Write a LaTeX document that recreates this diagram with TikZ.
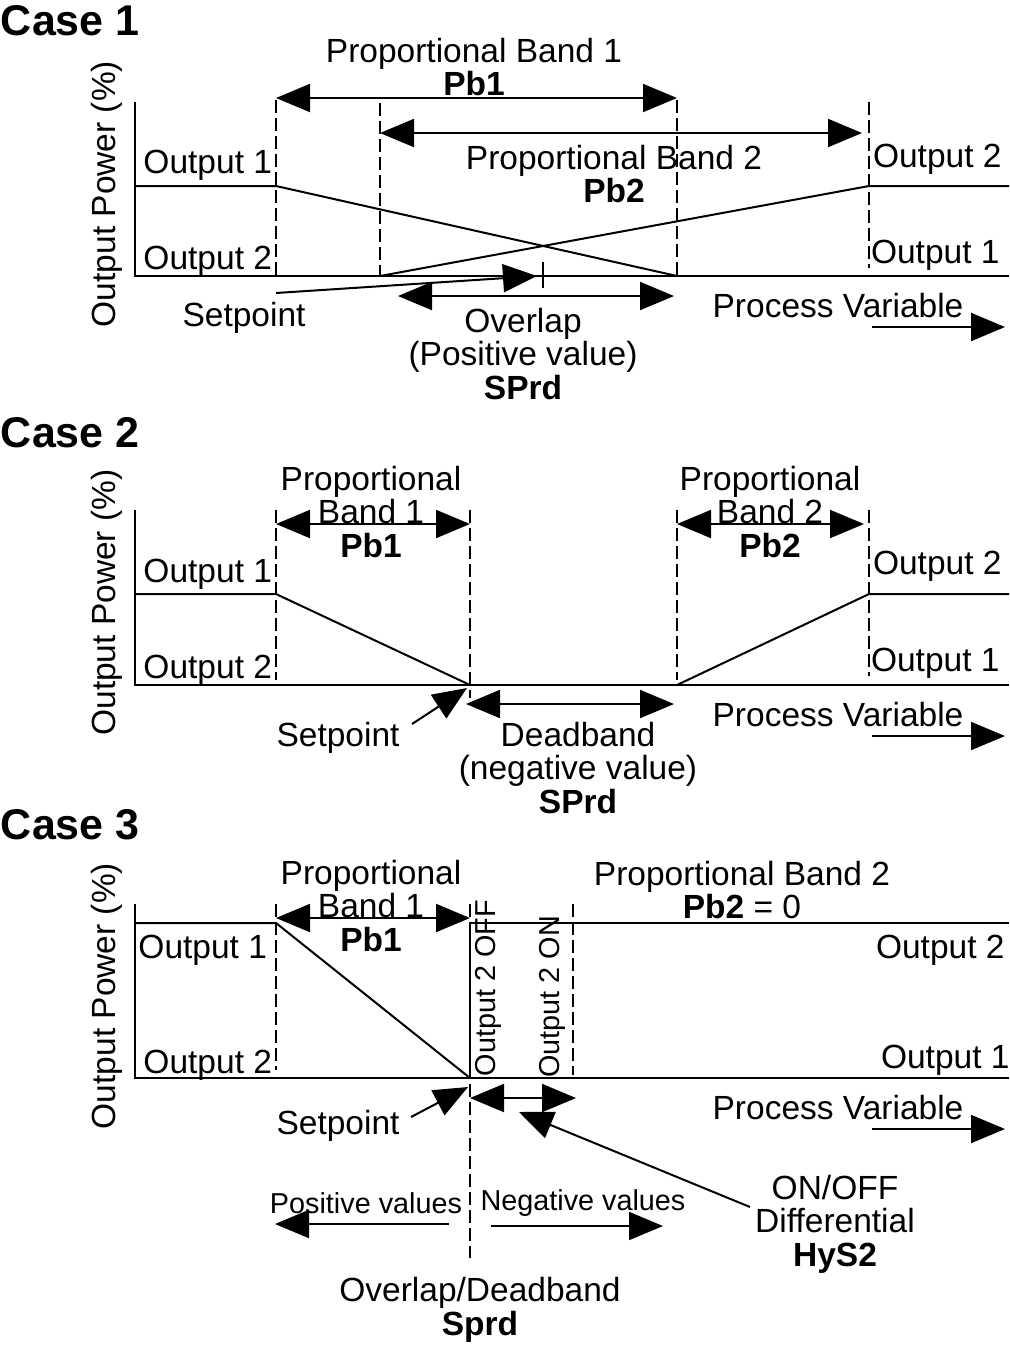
\documentclass[tikz,border=0pt]{standalone}
\usepackage{fontspec}
\setmainfont{Liberation Sans}
\usetikzlibrary{arrows.meta}
\begin{document}
\begin{tikzpicture}[x=0.5pt, y=-0.5pt,
    >={Triangle[length=17pt,width=14pt]},   %Pfeilspitzen
    line width=1pt,
    font=\fontsize{16.75}{16.75}\selectfont,
    lbl/.style={inner sep=0pt, align=center},
    klein/.style={inner sep=0pt, font=\fontsize{14.4}{14.4}\selectfont},
    grenze/.style={dash pattern=on 6.5pt off 2.5pt},
    titel/.style={inner sep=0pt, anchor=west, font=\fontsize{21.5}{21.5}\selectfont\bfseries}]
  \useasboundingbox (0,0) rectangle (1009,1346);
  % Achsen, Titel, Prozessgroesse
  \foreach \n/\ya/\yb/\ty in {1/102/276/21, 2/510/685/433, 3/904/1078/825}{
    \node[titel] (case\n) at (0,\ty) {Case \n};
    \coordinate (top\n) at (135,\ya);
    \coordinate (org\n) at (135,\yb);
    \coordinate (end\n) at (1009,\yb);
    \draw (top\n) -- (org\n) -- (end\n);
    \node[lbl, rotate=90] (ylab\n) at (107,{(\ya+\yb)/2+5}) {Output Power (\%)};
    \node[lbl] (pv\n) at (838,\yb+30) {Process Variable};
    \coordinate (pva\n) at (872,\yb+51);
    \coordinate (pvb\n) at (1005,\yb+51);
    \draw[->] (pva\n) -- (pvb\n);
  }
  %%% Case 1
  % Grenzen
  \draw[grenze] (276,100) -- (276,276);
  \draw[grenze] (380,103) -- (380,276);
  \draw[grenze] (677,100) -- (677,276);
  \draw[grenze] (869,102) -- (869,268);
  % Ausgaenge
  \draw (135,186) -- (276,186) -- (677,276);
  \draw (380,276) -- (869,186) -- (1009,186);
  \draw (543,262) -- (543,288);
  % Baender und Pfeile
  \coordinate (pbA1a) at (276,98);  \coordinate (pbA1b) at (677,98);
  \coordinate (pbB1a) at (380,133); \coordinate (pbB1b) at (862,133);
  \coordinate (ov1a) at (398,296);  \coordinate (ov1b) at (674,296);
  \coordinate (sp1a) at (276,293);  \coordinate (sp1b) at (537,276);
  \draw[<->] (pbA1a) -- (pbA1b);
  \draw[<->] (pbB1a) -- (pbB1b);
  \draw[<->] (ov1a) -- (ov1b);
  \draw[->] (sp1a) -- (sp1b);
  % Beschriftung
  \node[lbl] (pbA1) at (474,67) {Proportional Band 1\\\textbf{Pb1}};
  \node[lbl] (pbB1) at (614,174) {Proportional Band 2\\\textbf{Pb2}};
  \node[lbl] (ov1) at (523,354) {Overlap\\(Positive value)\\\textbf{SPrd}};
  \node[lbl] (sp1) at (244,318) {Setpoint};
  \node[lbl, anchor=east] (lo1a) at (273,165) {Output 1};
  \node[lbl, anchor=east] (lo1b) at (273,261) {Output 2};
  \node[lbl, anchor=west] (ro1a) at (872,159) {Output 2};
  \node[lbl, anchor=west] (ro1b) at (870,255) {Output 1};
  %%% Case 2
  \draw[grenze] (276,510) -- (276,680);
  \draw[grenze] (470,510) -- (470,698);
  \draw[grenze] (677,510) -- (677,680);
  \draw[grenze] (869,510) -- (869,676);
  \draw (135,594) -- (276,594) -- (470,685);
  \draw (677,685) -- (869,594) -- (1009,594);
  \coordinate (pbA2a) at (276,524); \coordinate (pbA2b) at (470,524);
  \coordinate (pbB2a) at (677,524); \coordinate (pbB2b) at (864,524);
  \coordinate (db2a) at (466,704);  \coordinate (db2b) at (674,704);
  \coordinate (sp2a) at (412,724);  \coordinate (sp2b) at (467,688);
  \draw[<->] (pbA2a) -- (pbA2b);
  \draw[<->] (pbB2a) -- (pbB2b);
  \draw[<->] (db2a) -- (db2b);
  \draw[->] (sp2a) -- (sp2b);
  \node[lbl] (pbA2) at (371,512) {Proportional\\Band 1\\\textbf{Pb1}};
  \node[lbl] (pbB2) at (770,512) {Proportional\\Band 2\\\textbf{Pb2}};
  \node[lbl] (db2) at (578,768) {Deadband\\(negative value)\\\textbf{SPrd}};
  \node[lbl] (sp2) at (338,738) {Setpoint};
  \node[lbl, anchor=east] (lo2a) at (273,574) {Output 1};
  \node[lbl, anchor=east] (lo2b) at (273,670) {Output 2};
  \node[lbl, anchor=west] (ro2a) at (872,566) {Output 2};
  \node[lbl, anchor=west] (ro2b) at (870,663) {Output 1};
  %%% Case 3
  \draw[grenze] (276,904) -- (276,1070);
  \draw[grenze] (470,904) -- (470,1258);
  \draw[grenze] (573,904) -- (573,1075);
  \draw (135,923) -- (276,923) -- (470,1078);
  \draw (470,1078) -- (470,923) -- (1009,923);
  \coordinate (pbA3a) at (276,918); \coordinate (pbA3b) at (470,918);
  \coordinate (hy3a) at (470,1098); \coordinate (hy3b) at (576,1098);
  \coordinate (sp3a) at (411,1117); \coordinate (sp3b) at (468,1087);
  \coordinate (df3a) at (750,1207); \coordinate (df3b) at (519,1112);
  \coordinate (pos3a) at (449,1224); \coordinate (pos3b) at (275,1224);
  \coordinate (neg3a) at (491,1226); \coordinate (neg3b) at (663,1226);
  \draw[<->] (pbA3a) -- (pbA3b);
  \draw[<->] (hy3a) -- (hy3b);
  \draw[->] (sp3a) -- (sp3b);
  \draw[->] (df3a) -- (df3b);
  \draw[->] (pos3a) -- (pos3b);
  \draw[->] (neg3a) -- (neg3b);
  \node[lbl] (pbA3) at (371,906) {Proportional\\Band 1\\\textbf{Pb1}};
  \node[lbl] (pbB3) at (742,890) {Proportional Band 2\\\textbf{Pb2} = 0};
  \node[klein, rotate=90] (off3) at (488,988) {Output 2 OFF};
  \node[klein, rotate=90] (on3) at (552,997) {Output 2 ON};
  \node[lbl] (df3) at (835,1224) {ON/OFF\\Differential\\\textbf{HyS2}};
  \node[klein] (pos3) at (366,1203) {Positive values};
  \node[klein] (neg3) at (583,1203) {Negative values};
  \node[lbl] (sprd3) at (480,1310) {Overlap/Deadband\\\textbf{Sprd}};
  \node[lbl] (sp3) at (338,1126) {Setpoint};
  \node[lbl, anchor=east] (lo3a) at (268,950) {Output 1};
  \node[lbl, anchor=east] (lo3b) at (273,1065) {Output 2};
  \node[lbl, anchor=west] (ro3a) at (875,950) {Output 2};
  \node[lbl, anchor=west] (ro3b) at (880,1060) {Output 1};
\end{tikzpicture}
\end{document}
